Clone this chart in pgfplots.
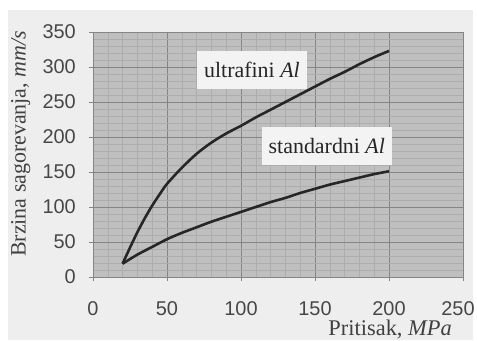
\documentclass[border=0pt]{standalone}
\usepackage{fontspec}
\setmainfont{Liberation Serif}
\newfontfamily\sansf{Liberation Sans}
\usepackage{pgfplots}
\pgfplotsset{compat=1.18}
\definecolor{panel}{HTML}{EEEEEE}
\definecolor{plotbg}{HTML}{BFBFBF}
\definecolor{majgrid}{HTML}{858585}
\definecolor{mingrid}{HTML}{ADADAD}
\definecolor{curve}{HTML}{262626}
\definecolor{boxfill}{HTML}{F3F3F3}
\begin{document}
\begin{tikzpicture}
\useasboundingbox (0,0) rectangle (477bp,341bp);
\fill[white] (0,0) rectangle (477bp,341bp);
\fill[panel] (8bp,1bp) rectangle (473bp,331bp);
\begin{axis}[
  at={(93bp,64bp)}, anchor=south west,
  scale only axis, width=370bp, height=245bp,
  xmin=0, xmax=250, ymin=0, ymax=350,
  xtick={0,50,...,200}, ytick={0,50,...,350},
  extra x ticks={250},
  extra x tick style={grid=major, xticklabel style={xshift=-5bp}},
  minor x tick num=4, minor y tick num=4,
  grid=both,
  major grid style={draw=majgrid, line width=0.9pt},
  minor grid style={draw=mingrid, line width=0.5pt},
  axis background/.style={fill=plotbg},
  axis line style={draw=majgrid, line width=0.9pt},
  major tick style={draw=majgrid, line width=0.8pt},
  minor tick style={draw=none},
  tick align=outside, major tick length=4bp,
  xtick pos=bottom, ytick pos=left,
  /pgf/number format/assume math mode=true,
  ticklabel style={font=\sansf\fontsize{20}{21}\selectfont, text=black!72},
  xticklabel style={anchor=center, yshift=-28bp},
  yticklabel style={anchor=east, inner sep=0pt, xshift=-13bp},
  xlabel={Pritisak, \textit{MPa}},
  ylabel={Brzina sagorevanja, \textit{mm/s}},
  xlabel style={at={(axis description cs:0.803,-0.216)}, anchor=center, font=\fontsize{22.5}{23}\selectfont, text=black!75},
  ylabel style={at={(axis description cs:-0.195,0.543)}, anchor=center, font=\fontsize{22}{23}\selectfont, text=black!75},
  clip=false,
]
\addplot[curve, line width=2.6pt, smooth] coordinates {
(20,19) (25,42) (30,64) (35,84) (40,102) (45,118) (50,133) (60,156) (70,176) (80,192) (90,205) (100,216)
(110,228) (120,239) (130,250) (140,261) (150,272) (160,283) (170,293) (180,304) (190,314) (200,323)};
\addplot[curve, line width=2.6pt, smooth] coordinates {
(20,19) (30,32) (40,43) (50,54) (60,63) (70,71) (80,79) (90,86) (100,93) (110,100)
(120,107) (130,113) (140,120) (150,126) (160,132) (170,137) (180,142) (190,147) (200,151)};
\node[fill=boxfill, inner xsep=7bp, minimum height=38bp, font=\fontsize{22}{23}\selectfont, text=black!85] at (axis cs:107.4,296) {ultrafini \textit{Al}};
\node[fill=boxfill, inner xsep=7bp, minimum height=38bp, font=\fontsize{22}{23}\selectfont, text=black!85] at (axis cs:158,187) {standardni \textit{Al}};
\end{axis}
\end{tikzpicture}
\end{document}
